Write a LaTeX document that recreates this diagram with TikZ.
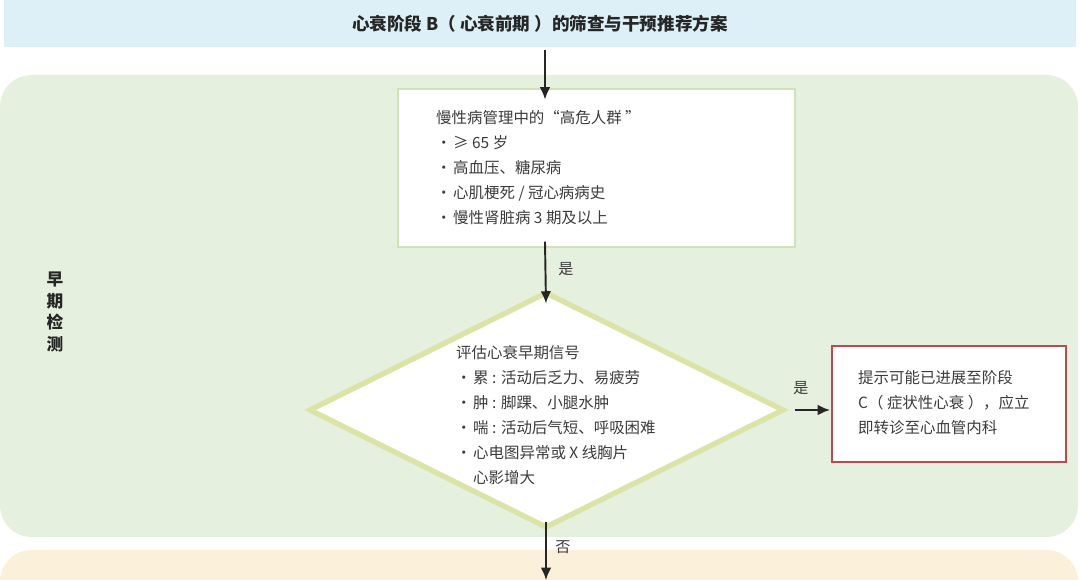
\documentclass[tikz,border=0pt]{standalone}
\usepackage{fontspec}
\setmainfont{Noto Sans CJK SC}
\usetikzlibrary{shapes.geometric, arrows.meta}
\definecolor{titleblue}{HTML}{DDF0F8}
\definecolor{panelgreen}{HTML}{E6F0DF}
\definecolor{panelyellow}{HTML}{FBF0DA}
\definecolor{boxline}{HTML}{D3E2B6}
\definecolor{diamondline}{HTML}{DCE3A6}
\definecolor{redline}{HTML}{C0474C}
\definecolor{txt}{HTML}{3C3C3C}
\newcommand{\bul}{\makebox[1.1em][l]{•}}

\begin{document}
\begin{tikzpicture}[x=0.02cm,y=-0.02cm,
	txtfont/.style={font=\fontsize{8.8}{14.3}\selectfont, text=txt},
	arrowline/.style={-{Latex[length=7pt,width=6pt]}, line width=1.1pt, draw=black!85},
	yeslabel/.style={font=\fontsize{8.6}{10}\selectfont, text=txt}]
	\useasboundingbox (0,0) rectangle (1080,580);
	%Background panels
	\fill[titleblue] (4,0) rectangle (1076,47);
	\fill[panelgreen, rounded corners=18pt] (0,75) rectangle (1078,537);
	\fill[panelyellow, rounded corners=18pt] (0,550) rectangle (1078,620);
	\node[font=\fontsize{10}{12}\selectfont\bfseries, text=black!85] (title) at (540,24) {心衰阶段 B（ 心衰前期 ）的筛查与干预推荐方案};
	%Side label
	\node[font=\fontsize{9.5}{12.5}\selectfont\bfseries, text=black!85, align=center] (side) at (55,312) {早\\期\\检\\测};
	%High risk box
	\draw[boxline, fill=white, line width=1.5pt] (398,89) rectangle (795,247);
	\coordinate (risktop) at (545,89);
	\coordinate (riskbot) at (545,247);
	\node[txtfont, align=left, anchor=north west] (risk) at (430,104) {慢性病管理中的“高危人群 ”\\
		\bul ≥ 65 岁\\
		\bul 高血压、糖尿病\\
		\bul 心肌梗死 / 冠心病病史\\
		\bul 慢性肾脏病 3 期及以上};
	%Diamond
	\draw[diamondline, fill=white, line width=3pt, line join=miter] (310,410) -- (546,293) -- (783,410) -- (546,527) -- cycle;
	\coordinate (diatop) at (546,293);
	\coordinate (diaright) at (783,410);
	\coordinate (diabot) at (546,527);
	\node[txtfont, align=left, anchor=north west] (signal) at (450,339) {评估心衰早期信号\\
		\bul 累 : 活动后乏力、易疲劳\\
		\bul 肿 : 脚踝、小腿水肿\\
		\bul 喘 : 活动后气短、呼吸困难\\
		\bul 心电图异常或 X 线胸片\\
		\hspace*{1.1em}心影增大};
	%Referral box
	\draw[redline, fill=white, line width=1.3pt] (832,346) rectangle (1066,462);
	\coordinate (refleft) at (830,410);
	\node[txtfont, align=left, anchor=north west] (refer) at (852,364) {提示可能已进展至阶段\\
		C（ 症状性心衰 ），应立\\
		即转诊至心血管内科};
	%Arrows
	\coordinate (titlebot) at (545,50);
	\coordinate (below) at (546,580);
	\draw[arrowline] (titlebot) -- ([yshift=-6]risktop);
	\draw[arrowline] ([yshift=3]riskbot) -- ([yshift=-6]diatop);
	\node[yeslabel] (yes1) at (566,269) {是};
	\draw[arrowline] ([xshift=7]diaright) -- (refleft);
	\node[yeslabel] (yes2) at (801,388) {是};
	\draw[arrowline] ([yshift=3]diabot) -- (below);
	\node[yeslabel] (no) at (563,547) {否};
\end{tikzpicture}
\end{document}
